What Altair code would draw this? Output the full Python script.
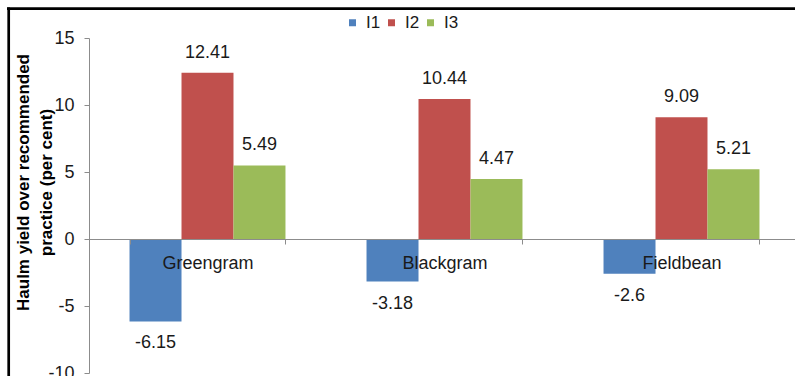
import altair as alt
import pandas as pd

# Yield change per crop and irrigation/input level (per cent)
crops = ["Greengram", "Blackgram", "Fieldbean"]
series = ["I1", "I2", "I3"]
i1 = [-6.15, -3.18, -2.6]
i2 = [12.41, 10.44, 9.09]
i3 = [5.49, 4.47, 5.21]
colors = ["#4F81BD", "#C0504D", "#9BBB59"]
y_ticks = [-10, -5, 0, 5, 10, 15]
y_title = ["Haulm yield over recommended", "practice (per cent)"]

rows = []
for s, vals in zip(series, [i1, i2, i3]):
    for c, v in zip(crops, vals):
        rows.append({"crop": c, "series": s, "value": v, "label": f"{v:g}"})
df = pd.DataFrame(rows)

FONT = "Liberation Sans"
W, H = 706, 335

x_enc = alt.X(
    "crop:N",
    sort=crops,
    scale=alt.Scale(range=[0, 711], paddingInner=0.342, paddingOuter=0.171),
    axis=alt.Axis(
        title=None,
        orient="bottom",
        offset=-134,
        domainColor="#8c8c8c",
        tickColor="#8c8c8c",
        tickSize=5,
        tickBand="extent",
        labelFont=FONT,
        labelFontSize=18,
        labelColor="#1a1a1a",
        labelAngle=0,
        labelPadding=10,
        zindex=1,
    ),
)
xoff_enc = alt.XOffset("series:N", sort=series, scale=alt.Scale(paddingInner=0, paddingOuter=0))
y_scale = alt.Scale(domain=[-10, 15], nice=False, zero=False)

base = alt.Chart(df).encode(x=x_enc, xOffset=xoff_enc)

bars = base.mark_bar().encode(
    y=alt.Y(
        "value:Q",
        scale=y_scale,
        axis=alt.Axis(
            values=y_ticks,
            title=y_title,
            titleFont=FONT,
            titleFontSize=17,
            titleFontWeight="bold",
            titleColor="#000000",
            titleX=-57,
            titleY=144,
            titleAngle=-90,
            titleAlign="center",
            titleBaseline="bottom",
            titleLineHeight=23,
            grid=False,
            domainColor="#8c8c8c",
            tickColor="#8c8c8c",
            tickSize=5,
            labelFont=FONT,
            labelFontSize=18,
            labelColor="#1a1a1a",
            labelPadding=10,
            labelExpr="'' + datum.value",
        ),
    ),
    y2=alt.datum(0),
    color=alt.Color(
        "series:N",
        sort=series,
        scale=alt.Scale(domain=series, range=colors),
        legend=alt.Legend(
            title=None,
            orient="none",
            direction="horizontal",
            legendX=255,
            legendY=-24,
            padding=0,
            symbolType="square",
            symbolSize=49,
            symbolStrokeWidth=0,
            labelFont=FONT,
            labelFontSize=17,
            labelColor="#1a1a1a",
            labelOffset=5,
            columnPadding=2,
        ),
    ),
)

pos_labels = base.transform_filter("datum.value >= 0").mark_text(
    font=FONT, fontSize=18, color="#1a1a1a", baseline="middle", dy=-20
).encode(y=alt.Y("value:Q", scale=y_scale), text="label:N")

neg_labels = base.transform_filter("datum.value < 0").mark_text(
    font=FONT, fontSize=18, color="#1a1a1a", baseline="middle", dy=22
).encode(y=alt.Y("value:Q", scale=y_scale), text="label:N")

# Outer chart frame (top and left edges)
frame_df = pd.DataFrame({"k": [0]})
frame_top = alt.Chart(frame_df).mark_rule(color="#000000", strokeWidth=2.7).encode(
    x=alt.value(-82), x2=alt.value(W + 10), y=alt.value(-29.3)
)
frame_left = alt.Chart(frame_df).mark_rule(color="#000000", strokeWidth=2.7).encode(
    x=alt.value(-80.3), y=alt.value(-30.6), y2=alt.value(H + 10)
)

chart = (
    alt.layer(bars, pos_labels, neg_labels, frame_top, frame_left)
    .properties(
        width=W,
        height=H,
        autosize=alt.AutoSizeParams(type="none"),
        padding={"left": 89, "top": 38, "right": 0, "bottom": 3},
        background="white",
    )
    .configure_view(strokeWidth=0)
)

chart.save("out.html", embed_options={"renderer": "svg", "actions": False})
